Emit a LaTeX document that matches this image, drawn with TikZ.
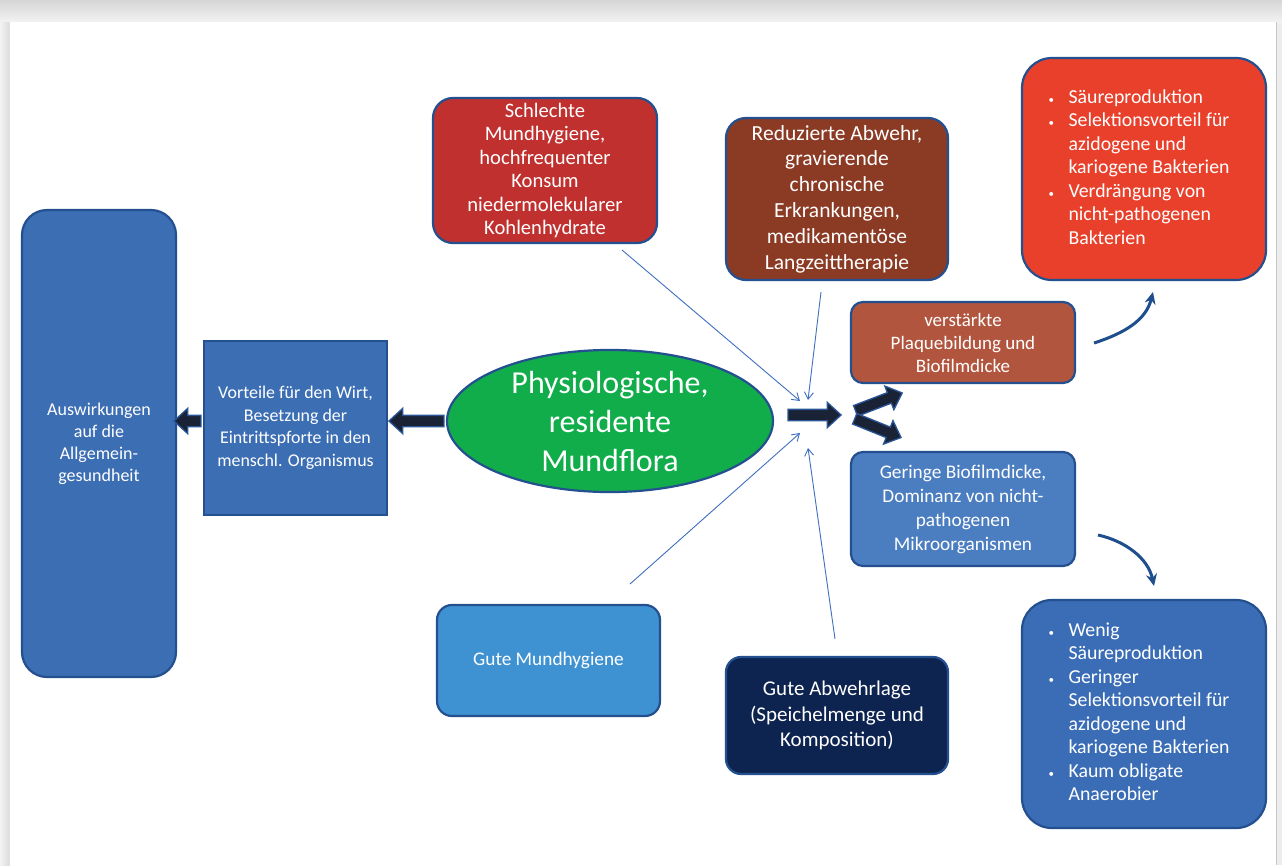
\documentclass[tikz,border=0pt]{standalone}
\usepackage{fontspec}
\setmainfont{Carlito}
\usetikzlibrary{shapes.geometric,shapes.arrows,arrows.meta}
\definecolor{boxborder}{HTML}{24508F}
\definecolor{cAusw}{HTML}{3C6EB4}
\definecolor{cGreen}{HTML}{11AD4B}
\definecolor{cBad}{HTML}{C0302F}
\definecolor{cBrown}{HTML}{8B3A24}
\definecolor{cRedTop}{HTML}{E8402B}
\definecolor{cPlaque}{HTML}{B2553F}
\definecolor{cGering}{HTML}{4B7DC1}
\definecolor{cGute}{HTML}{3F92D2}
\definecolor{cNavy}{HTML}{0E2450}
\definecolor{cBlueBot}{HTML}{3A6DB5}
\definecolor{arrowfill}{HTML}{1A2336}
\definecolor{arrowborder}{HTML}{2A5597}
\definecolor{thinblue}{HTML}{3F6FC0}
\definecolor{curveblue}{HTML}{1F4E8C}
\newcommand{\bul}{\makebox[9pt][l]{\fontsize{11}{11}\selectfont\textbullet}}
\begin{document}
\begin{tikzpicture}[x=1pt,y=-1pt,
  box/.style={draw=boxborder, line width=2.2pt, text=white, align=center,
    font=\fontsize{17.5}{23.5}\selectfont, inner sep=0pt},
  blockarrow/.style={single arrow, draw=arrowborder, fill=arrowfill, line width=1.3pt,
    inner xsep=0pt, inner ysep=5pt, minimum width=1pt, single arrow head extend=7pt,
    single arrow tip angle=85},
  thinarrow/.style={draw=thinblue, line width=0.9pt, -{Straight Barb[length=7pt,width=9pt]}},
  curvedarrow/.style={draw=curveblue, line width=3pt, -{Stealth[length=12pt,width=11pt]}}]
\useasboundingbox (0,0) rectangle (1282,865);
% page
\fill[black!7] (0,0) rectangle (1282,865);
\shade[top color=black!16, bottom color=black!5] (0,0) rectangle (1282,22);
\shade[left color=black!5, right color=black!14] (0,22) rectangle (10,865);
\fill[white] (10,22) rectangle (1276,865);
\draw[black!22, line width=1pt] (1276.5,22) -- (1276.5,865);

% boxes
\node[box, fill=cAusw, rounded corners=25pt, minimum width=154pt, minimum height=467pt,
  font=\fontsize{18}{22}\selectfont] (ausw) at (99,443.5)
  {Auswirkungen\\auf die\\Allgemein-\\gesundheit};
\node[box, fill=cAusw, minimum width=183pt, minimum height=174pt,
  font=\fontsize{17.9}{22.5}\selectfont] (vort) at (295.5,428)
  {Vorteile für den Wirt,\\Besetzung der\\Eintrittspforte in den\\menschl. Organismus};
\node[box, ellipse, fill=cGreen, minimum width=326pt, minimum height=140pt,
  font=\fontsize{32}{39}\selectfont] (flora) at (610,421)
  {Physiologische,\\residente\\Mundflora};
\node[box, fill=cBad, rounded corners=20pt, minimum width=224pt, minimum height=145pt,
  font=\fontsize{20.6}{23.5}\selectfont] (bad) at (545,170.5)
  {Schlechte\\Mundhygiene,\\hochfrequenter\\Konsum\\niedermolekularer\\Kohlenhydrate};
\node[box, fill=cBrown, rounded corners=20pt, minimum width=222pt, minimum height=162pt,
  font=\fontsize{21.5}{25.8}\selectfont] (abw) at (837,199)
  {Reduzierte Abwehr,\\gravierende\\chronische\\Erkrankungen,\\medikamentöse\\Langzeittherapie};
\node[box, fill=cRedTop, rounded corners=30pt, minimum width=244pt, minimum height=222pt,
  font=\fontsize{19.8}{23.5}\selectfont] (saeure) at (1144,169)
  {\begin{tabular}{@{}l@{\hspace{11pt}}l@{}}
   \bul & Säureproduktion\\
   \bul & Selektionsvorteil für\\
        & azidogene und\\
        & kariogene Bakterien\\
   \bul & Verdrängung von\\
        & nicht-pathogenen\\
        & Bakterien
   \end{tabular}\hspace{10pt}};
\node[box, fill=cPlaque, rounded corners=12pt, minimum width=224pt, minimum height=81pt,
  font=\fontsize{19}{23}\selectfont] (plaque) at (963,342.5)
  {verstärkte\\Plaquebildung und\\Biofilmdicke};
\node[box, fill=cGering, rounded corners=12pt, minimum width=224pt, minimum height=114pt,
  font=\fontsize{19.3}{24}\selectfont] (gering) at (963,509)
  {Geringe Biofilmdicke,\\Dominanz von nicht-\\pathogenen\\Mikroorganismen};
\node[box, fill=cGute, rounded corners=15pt, minimum width=223pt, minimum height=111pt,
  font=\fontsize{19.3}{23.5}\selectfont] (gute) at (548.5,660.5)
  {Gute Mundhygiene};
\node[box, fill=cNavy, rounded corners=15pt, minimum width=222pt, minimum height=117pt,
  font=\fontsize{21}{25.5}\selectfont] (abwehr) at (837,715.5)
  {Gute Abwehrlage\\(Speichelmenge und\\Komposition)};
\node[box, fill=cBlueBot, rounded corners=30pt, minimum width=244pt, minimum height=228pt,
  font=\fontsize{19.8}{23.5}\selectfont] (wenig) at (1144,714)
  {\begin{tabular}{@{}l@{\hspace{11pt}}l@{}}
   \bul & Wenig\\
        & Säureproduktion\\
   \bul & Geringer\\
        & Selektionsvorteil für\\
        & azidogene und\\
        & kariogene Bakterien\\
   \bul & Kaum obligate\\
        & Anaerobier
   \end{tabular}\hspace{10pt}};

% block arrows
\node[blockarrow, minimum height=55pt, rotate=180] (ba1) at (419.5,421) {};
\node[blockarrow, minimum height=27pt, rotate=180] (ba2) at (190.5,421) {};
\node[blockarrow, minimum height=53pt] (ba3) at (811.5,415) {};
\node[blockarrow, minimum height=50pt, rotate=21] (ba4) at (876,403) {};
\node[blockarrow, minimum height=50pt, rotate=-22] (ba5) at (875,427) {};

% thin arrows
\coordinate (t1) at (622,250);
\coordinate (t2) at (821,292);
\coordinate (t3) at (630,584);
\coordinate (t4) at (835,639);
\coordinate (e1) at (800,401);
\coordinate (e2) at (808,400);
\coordinate (e3) at (800,433);
\coordinate (e4) at (808,448);
\draw[thinarrow] (t1) -- (e1);
\draw[thinarrow] (t2) -- (e2);
\draw[thinarrow] (t3) -- (e3);
\draw[thinarrow] (t4) -- (e4);

% curved arrows
\coordinate (c1s) at (1094,343);
\coordinate (c1e) at (1153,292);
\coordinate (c2s) at (1098,535);
\coordinate (c2e) at (1154,586);
\draw[curvedarrow] (c1s) .. controls (1125,333) and (1146,320) .. (c1e);
\draw[curvedarrow] (c2s) .. controls (1125,541) and (1148,558) .. (c2e);
\end{tikzpicture}
\end{document}
